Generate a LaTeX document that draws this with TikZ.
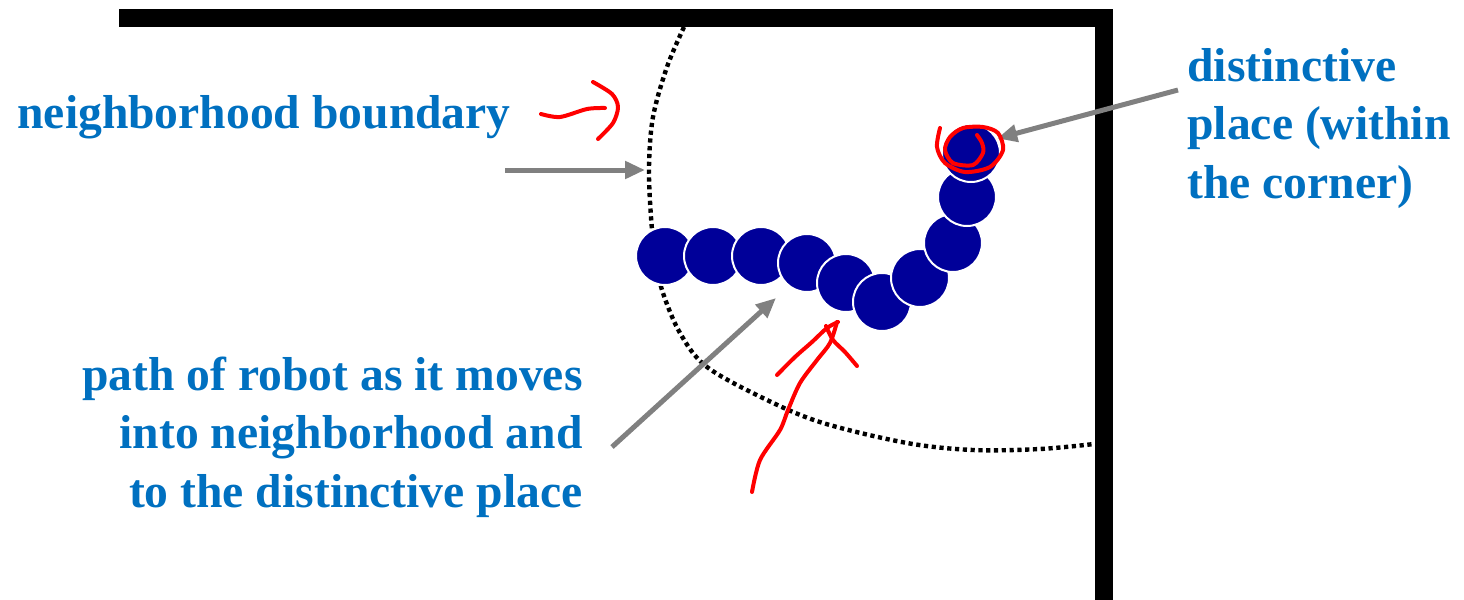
\documentclass[tikz,border=0pt]{standalone}
\usepackage{fontspec}
\setmainfont{Liberation Serif}
\usetikzlibrary{arrows.meta}
\definecolor{lblblue}{RGB}{0,112,192}
\definecolor{blobblue}{RGB}{0,0,153}
\definecolor{arrgray}{RGB}{128,128,128}
\tikzset{
  blob/.style={circle, fill=blobblue, draw=white, line width=1pt, minimum size=29pt, inner sep=0pt},
  lbl/.style={text=lblblue, font=\bfseries\fontsize{23.8}{29.2}\selectfont, inner sep=0pt},
  arr/.style={-{Triangle[length=10pt,width=8.5pt]}, line width=2.5pt, draw=arrgray},
  wall/.style={line width=9pt, line join=miter},
  bound/.style={line width=2.2pt, dash pattern=on 2.1pt off 1.8pt},
  ink/.style={draw=red, line width=2pt, line cap=round, line join=round},
}
\begin{document}
\begin{tikzpicture}[x=0.5pt,y=-0.5pt]
\useasboundingbox (0,0) rectangle (1464,600);
% corner walls
\draw[wall] (119,18) -- (1103.5,18) -- (1103.5,600);
% neighborhood boundary
\draw[bound] plot[smooth, tension=0.55] coordinates {(684,27) (667,67) (653,117) (649,167) (651,217) (655,255) (662,290) (680,333) (707,367) (767,400) (823,423) (907,443) (973,450) (1040,449) (1094,444)};
% robot positions along the path
\node[blob] (b1) at (665,256) {};
\node[blob] (b2) at (713,256) {};
\node[blob] (b3) at (761,256) {};
\node[blob] (b4) at (807,263) {};
\node[blob] (b5) at (846,283) {};
\node[blob] (b6) at (882,302) {};
\node[blob] (b7) at (920,278) {};
\node[blob] (b8) at (953,243) {};
\node[blob] (b9) at (967,197) {};
\node[blob] (b10) at (971,153) {};
% labels (base = last line)
\node[lbl, anchor=base west] (nbl) at (17,128) {neighborhood boundary};
\node[lbl, anchor=base west, align=left] (dpl) at (1187,198) {distinctive\\place (within\\the corner)};
\node[lbl, anchor=base east, align=right] (pthl) at (583,507) {path of robot as it moves\\into neighborhood and\\to the distinctive place};
% pointers
\coordinate (nbt) at (505,170);
\coordinate (nbh) at (645,170);
\coordinate (dpt) at (1178,90);
\coordinate (ptt) at (612,447);
\coordinate (pth) at (776,298);
\draw[arr] (nbt) -- (nbh);
\draw[arr] (dpt) -- (b10.29);
\draw[arr] (ptt) -- (pth);
% red pen marks
\draw[ink] plot[smooth] coordinates {(541,114) (560,117) (587,109) (605,108)};
\draw[ink] plot[smooth] coordinates {(593,82) (612,94) (618,107) (613,123) (598,139)};
\draw[ink] plot[smooth] coordinates {(752,492) (760,460) (780,430) (788,410) (800,383) (817,360) (830,343) (837,322)};
\draw[ink] plot[smooth] coordinates {(777,375) (795,357) (812,342) (827,328) (838,322)};
\draw[ink] plot[smooth] coordinates {(826,326) (833,340) (845,352) (857,366)};
\draw[ink] plot[smooth] coordinates {(940,128) (937,147) (945,163) (965,172) (990,167) (1003,150) (998,133) (983,127) (963,128) (950,137) (945,150) (953,163) (973,165) (983,153) (982,143) (977,135)};
\end{tikzpicture}
\end{document}
